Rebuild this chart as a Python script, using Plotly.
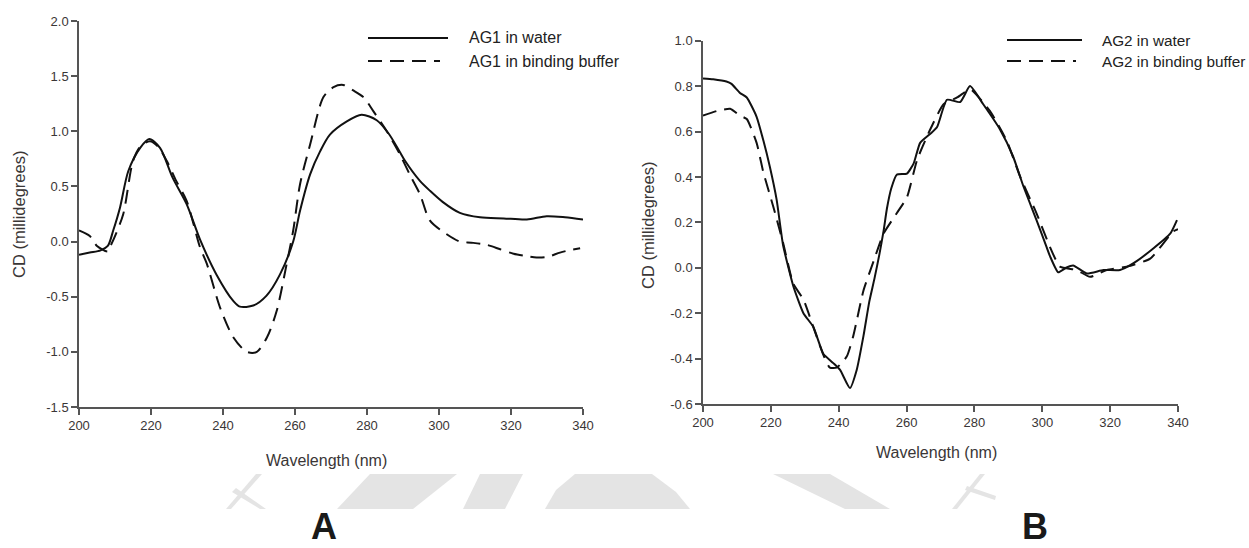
import plotly.graph_objects as go

W, H = 1249, 548

# ---------------- data ----------------
wl_A_water = [200, 203, 206, 208, 209.5, 211.4, 213.7, 217, 219.5, 222.5, 226, 229.9, 233.6, 238.2,
              242.9, 244.7, 248.4, 252.1, 255.8, 259.5, 261.4, 264.2, 267, 269.7, 274.4, 278.5,
              282.7, 286, 289, 290.6, 294.7, 297.5, 301, 305.8, 311.4, 318, 324.4, 329.9, 335, 340]
cd_A_water = [-0.12, -0.10, -0.08, -0.04, 0.10, 0.31, 0.64, 0.85, 0.93, 0.85, 0.58, 0.34, 0.02, -0.30,
              -0.54, -0.59, -0.58, -0.49, -0.30, 0.0, 0.28, 0.61, 0.82, 0.97, 1.09, 1.15,
              1.10, 0.98, 0.82, 0.73, 0.55, 0.46, 0.36, 0.26, 0.22, 0.21, 0.20, 0.23, 0.22, 0.20]

wl_A_buffer = [200, 203, 205, 208, 208.6, 210, 212.3, 215, 217, 219.7, 222, 224.4, 227, 229.9, 233.6,
               235.5, 239.2, 242.9, 246.6, 249.4, 252.2, 254.9, 257.7, 259.5, 261.4, 264.2, 267.9,
               270.7, 273.4, 276.2, 279, 281.8, 285.5, 289, 292, 294.7, 297.5, 302, 305.8, 309,
               313.3, 317, 320.7, 324, 327.1, 330, 333.6, 336, 339.2]
cd_A_buffer = [0.10, 0.05, -0.04, -0.09, -0.05, 0.05, 0.25, 0.73, 0.86, 0.91, 0.86, 0.73, 0.55, 0.37, -0.05,
               -0.20, -0.60, -0.87, -1.0, -1.0, -0.87, -0.63, -0.20, 0.10, 0.52, 0.88, 1.31,
               1.40, 1.42, 1.37, 1.31, 1.18, 1.0, 0.80, 0.60, 0.43, 0.19, 0.07, 0.0, -0.01,
               -0.03, -0.07, -0.11, -0.13, -0.145, -0.14, -0.10, -0.08, -0.06]

wl_B_water = [200, 203, 206.9, 208.4, 210.9, 212.9, 215.8, 217.8, 219.7, 221.7, 223.6, 226.6, 229.6,
              232.5, 235.5, 238.4, 240.4, 243.3, 245.3, 247.3, 249, 250.5, 252, 253.2, 254.2, 255.5,
              257.1, 260.1, 262.1, 264, 267, 269, 271.9, 275.8, 278.7, 282.6, 287.5, 291.4, 294.4,
              298.3, 301.3, 302.3, 304.7, 307, 309.1, 313.1, 318, 322.9, 326.9, 332.8, 337.7, 339.7]
cd_B_water = [0.834, 0.83, 0.82, 0.81, 0.77, 0.75, 0.665, 0.56, 0.445, 0.30, 0.10, -0.08, -0.20,
              -0.26, -0.38, -0.42, -0.45, -0.53, -0.45, -0.30, -0.15, -0.05, 0.06, 0.16, 0.26, 0.35,
              0.41, 0.415, 0.46, 0.55, 0.59, 0.62, 0.74, 0.73, 0.80, 0.72, 0.61, 0.49, 0.36,
              0.21, 0.09, 0.05, -0.02, 0.0, 0.01, -0.025, -0.01, -0.01, 0.02, 0.086, 0.15, 0.21]

wl_B_buffer = [200, 204, 208, 210.9, 212.9, 215.8, 217.8, 220.7, 223.6, 226.6, 229.6, 232.5, 235.5,
               237.4, 239.4, 242.4, 244.3, 247.3, 250.3, 253.2, 257.1, 260.1, 263.1, 267, 270.9,
               274.9, 277.8, 279, 284.6, 289.5, 293.5, 298.3, 302.3, 305.2, 310.1, 314.1, 319,
               324.9, 331.8, 338.6, 340]
cd_B_buffer = [0.67, 0.69, 0.70, 0.67, 0.655, 0.55, 0.42, 0.27, 0.11, -0.07, -0.14, -0.26, -0.385,
               -0.44, -0.44, -0.39, -0.30, -0.10, 0.03, 0.15, 0.24, 0.31, 0.475, 0.61, 0.72,
               0.75, 0.78, 0.785, 0.69, 0.56, 0.40, 0.24, 0.09, 0.005, -0.01, -0.04, -0.01,
               0.005, 0.04, 0.16, 0.17]

x_ticks = [200, 220, 240, 260, 280, 300, 320, 340]
x_ticktext = ["200", "220", "240", "260", "280", "300", "320", "340"]
yA_ticks = [-1.5, -1.0, -0.5, 0.0, 0.5, 1.0, 1.5, 2.0]
yA_ticktext = ["-1.5", "-1.0", "-0.5", "0.0", "0.5", "1.0", "1.5", "2.0"]
yB_ticks = [-0.6, -0.4, -0.2, 0.0, 0.2, 0.4, 0.6, 0.8, 1.0]
yB_ticktext = ["-0.6", "-0.4", "-0.2", "0.0", "0.2", "0.4", "0.6", "0.8", "1.0"]

names_A = ["AG1 in water", "AG1 in binding buffer"]
names_B = ["AG2 in water", "AG2 in binding buffer"]
panel_labels = ["A", "B"]
x_title = "Wavelength (nm)"
y_title = "CD (millidegrees)"

# ---------------- helpers ----------------
def px(x):
    return x / W

def py(y):
    return 1 - y / H

FONT = "Liberation Sans, Arial, sans-serif"
LINE_C = "#111111"
AX_C = "#555555"
TXT_C = "#3a3636"
DASH = "14px,8px"

fig = go.Figure()
fig.add_trace(go.Scatter(x=wl_A_water, y=cd_A_water, mode="lines", name=names_A[0],
                         line=dict(color=LINE_C, width=2, shape="spline", smoothing=0.8),
                         xaxis="x", yaxis="y", showlegend=False))
fig.add_trace(go.Scatter(x=wl_A_buffer, y=cd_A_buffer, mode="lines", name=names_A[1],
                         line=dict(color=LINE_C, width=2, dash=DASH, shape="spline", smoothing=0.8),
                         xaxis="x", yaxis="y", showlegend=False))
fig.add_trace(go.Scatter(x=wl_B_water, y=cd_B_water, mode="lines", name=names_B[0],
                         line=dict(color=LINE_C, width=2, shape="spline", smoothing=0.5),
                         xaxis="x2", yaxis="y2", showlegend=False))
fig.add_trace(go.Scatter(x=wl_B_buffer, y=cd_B_buffer, mode="lines", name=names_B[1],
                         line=dict(color=LINE_C, width=2, dash=DASH, shape="spline", smoothing=0.5),
                         xaxis="x2", yaxis="y2", showlegend=False))

axis_common = dict(showline=True, linecolor=AX_C, linewidth=1.5, ticks="outside", ticklen=6,
                   tickcolor=AX_C, tickwidth=1.5, showgrid=False, zeroline=False, automargin=False,
                   tickfont=dict(family=FONT, size=13, color=TXT_C), fixedrange=True)

fig.update_layout(
    template="none",
    width=W, height=H, margin=dict(l=0, r=0, t=0, b=0, pad=0), autosize=False,
    font=dict(family=FONT, color=TXT_C),
    paper_bgcolor="white", plot_bgcolor="white", showlegend=False,
    xaxis=dict(domain=[px(79), px(583)], range=[200, 340], tickvals=x_ticks, ticktext=x_ticktext,
               anchor="y", **axis_common),
    yaxis=dict(domain=[py(407), py(21)], range=[-1.5, 2.0], tickvals=yA_ticks, ticktext=yA_ticktext,
               anchor="x", **axis_common),
    xaxis2=dict(domain=[px(703), px(1178)], range=[200, 340], tickvals=x_ticks, ticktext=x_ticktext,
                anchor="y2", **axis_common),
    yaxis2=dict(domain=[py(404), py(40.7)], range=[-0.6, 1.0], tickvals=yB_ticks, ticktext=yB_ticktext,
                anchor="x2", **axis_common),
)

ann = []
# axis titles
ann.append(dict(x=px(326), y=py(460), text=x_title, showarrow=False, xref="paper", yref="paper",
                font=dict(family=FONT, size=16, color=TXT_C), xanchor="center", yanchor="middle"))
ann.append(dict(x=px(936), y=py(452), text=x_title, showarrow=False, xref="paper", yref="paper",
                font=dict(family=FONT, size=16, color=TXT_C), xanchor="center", yanchor="middle"))
ann.append(dict(x=px(19), y=py(215), text=y_title, showarrow=False, xref="paper", yref="paper",
                textangle=-90, font=dict(family=FONT, size=16.5, color=TXT_C),
                xanchor="center", yanchor="middle"))
ann.append(dict(x=px(648), y=py(225), text=y_title, showarrow=False, xref="paper", yref="paper",
                textangle=-90, font=dict(family=FONT, size=16.5, color=TXT_C),
                xanchor="center", yanchor="middle"))

# legends (drawn as key lines + text)
shapes = []
legend_spec = [
    (names_A, 368, 448, 440, 467, 38, 61, 16),
    (names_B, 1007, 1082, 1076, 1100, 40, 61, 15.3),
]
for names, x0, x1s, x1d, xt, y1, y2, fs in legend_spec:
    shapes.append(dict(type="line", xref="paper", yref="paper", x0=px(x0), x1=px(x1s), y0=py(y1), y1=py(y1),
                       line=dict(color=LINE_C, width=2)))
    shapes.append(dict(type="line", xref="paper", yref="paper", x0=px(x0), x1=px(x1d), y0=py(y2), y1=py(y2),
                       line=dict(color=LINE_C, width=2, dash=DASH)))
    for nm, yy in zip(names, (y1, y2)):
        ann.append(dict(x=px(xt), y=py(yy), text=nm, showarrow=False, xref="paper", yref="paper",
                        xanchor="left", yanchor="middle",
                        font=dict(family=FONT, size=fs, color="#222222")))

# panel letters
for lab, cx in zip(panel_labels, (324, 1035)):
    ann.append(dict(x=px(cx), y=0, text="<b>%s</b>" % lab, showarrow=False, xref="paper", yref="paper",
                    xanchor="center", yanchor="bottom", yshift=-1,
                    font=dict(family=FONT, size=36, color="#1a1a1a")))

# faint watermark band (decorative)
WM = "#e4e4e4"
def poly(pts):
    d = "M " + " L ".join("%.5f,%.5f" % (px(a), py(b)) for a, b in pts) + " Z"
    return dict(type="path", path=d, xref="paper", yref="paper", fillcolor=WM,
                line=dict(width=0), layer="below")
shapes.append(poly([(337, 509), (413, 509), (457, 474), (370, 474)]))
shapes.append(poly([(463, 509), (505, 509), (523, 474), (480, 474)]))
shapes.append(poly([(545, 509), (690, 509), (676, 492), (652, 474), (575, 474), (556, 490)]))
shapes.append(poly([(773, 474), (830, 474), (890, 509), (845, 509)]))
shapes.append(poly([(226, 509), (231, 509), (262, 474), (256, 474)]))
shapes.append(poly([(232, 492), (260, 509), (266, 509), (236, 488)]))
shapes.append(poly([(952, 509), (957, 509), (985, 474), (980, 474)]))
shapes.append(poly([(965, 490), (995, 500), (996, 496), (967, 486)]))

fig.update_layout(annotations=ann, shapes=shapes)
fig.write_html("out.html", config={"displayModeBar": False},
               post_script="document.body.style.margin='0';document.body.style.overflow='hidden';")
